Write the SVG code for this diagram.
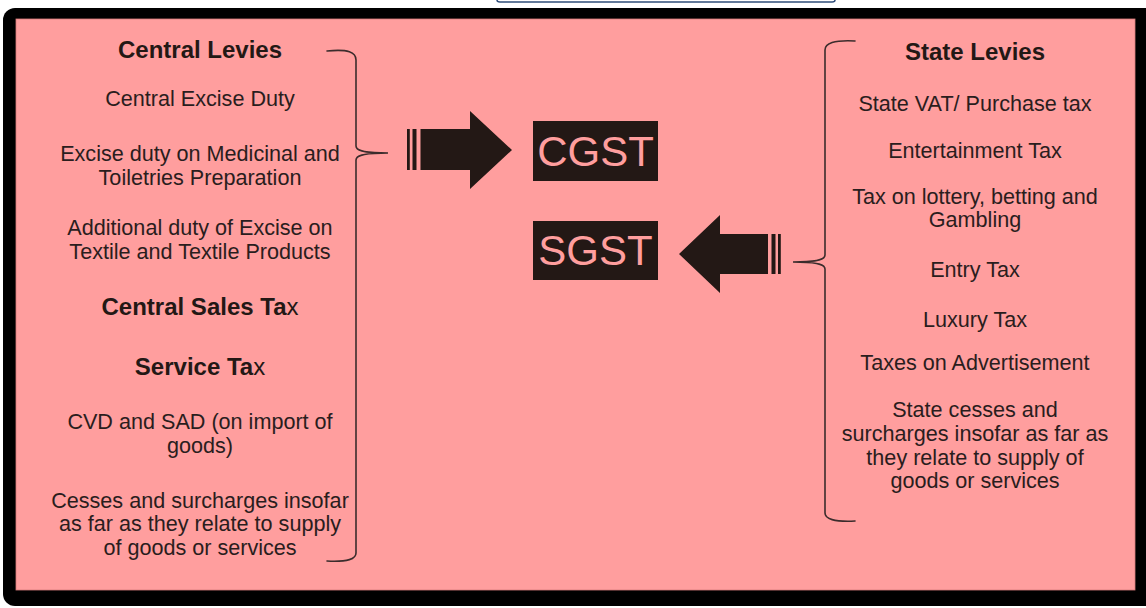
<svg xmlns="http://www.w3.org/2000/svg" width="1146" height="608" viewBox="0 0 1146 608">
  <style>
    text { font-family: "Liberation Sans", Arial, sans-serif; fill: #231815; text-anchor: middle; }
    .h { font-size: 24px; font-weight: bold; }
    .t { font-size: 21.6px; fill: #2a1d1d; }
    .x { font-weight: normal; }
    .brace { fill: none; stroke: #3b2c2c; stroke-width: 1.6; stroke-linecap: round; }
    .arrow { fill: #231815; }
    .box { fill: #231815; }
    .lbl { font-size: 42px; fill: #ff9e9e; }
  </style>
  <rect x="0" y="0" width="1146" height="608" fill="#ffffff"/>
  <path d="M497,0 Q497,2 500,2 L832,2 Q835,2 835,0" fill="none" stroke="#2f4d7a" stroke-width="1.5"/>
  <rect x="3" y="8" width="1160" height="598" rx="12" fill="#000000"/>
  <rect x="16" y="19" width="1119" height="571" fill="#ff9e9e" stroke="#d87a7a" stroke-width="0.8"/>

  <g id="central-levies">
    <text class="h" x="200" y="58">Central Levies</text>
    <text class="t" x="200" y="106">Central Excise Duty</text>
    <text class="t" x="200" y="161">Excise duty on Medicinal and</text>
    <text class="t" x="200" y="185">Toiletries Preparation</text>
    <text class="t" x="200" y="235">Additional duty of Excise on</text>
    <text class="t" x="200" y="259">Textile and Textile Products</text>
    <text class="h" x="200" y="315">Central Sales Ta<tspan class="x">x</tspan></text>
    <text class="h" x="200" y="375">Service Ta<tspan class="x">x</tspan></text>
    <text class="t" x="200" y="429">CVD and SAD (on import of</text>
    <text class="t" x="200" y="453">goods)</text>
    <text class="t" x="200" y="508">Cesses and surcharges insofar</text>
    <text class="t" x="200" y="531">as far as they relate to supply</text>
    <text class="t" x="200" y="555">of goods or services</text>
  </g>

  <g id="state-levies">
    <text class="h" x="975" y="60">State Levies</text>
    <text class="t" x="975" y="111">State VAT/ Purchase tax</text>
    <text class="t" x="975" y="158">Entertainment Tax</text>
    <text class="t" x="975" y="204">Tax on lottery, betting and</text>
    <text class="t" x="975" y="227">Gambling</text>
    <text class="t" x="975" y="277">Entry Tax</text>
    <text class="t" x="975" y="327">Luxury Tax</text>
    <text class="t" x="975" y="370">Taxes on Advertisement</text>
    <text class="t" x="975" y="417">State cesses and</text>
    <text class="t" x="975" y="441">surcharges insofar as far as</text>
    <text class="t" x="975" y="465">they relate to supply of</text>
    <text class="t" x="975" y="488">goods or services</text>
  </g>

  <g id="cgst">
    <rect class="box" x="533" y="121" width="125" height="60"/>
    <text class="lbl" x="595.5" y="166">CGST</text>
  </g>

  <g id="sgst">
    <rect class="box" x="533" y="221" width="125" height="59"/>
    <text class="lbl" x="595.5" y="265">SGST</text>
  </g>

  <g id="connectors">
    <path class="brace" d="M327,51 C348,49 356,52 356,60 L356,146 C356,150 361,153 388,153 C361,153 356,156 356,160 L356,553 C356,559 348,562 327,561"/>
    <path class="brace" d="M855,41 C834,40 825,43 825,50 L825,255 C825,259 820,262 793,262 C820,262 825,265 825,269 L825,513 C825,519 834,522 855,521"/>
    <g class="arrow">
      <rect x="407" y="129" width="2.8" height="41"/>
      <rect x="412.5" y="129" width="4" height="41"/>
      <path d="M420.5,129 L470,129 L470,111 L512,150 L470,189 L470,170 L420.5,170 Z"/>
      <rect x="778" y="234" width="2.8" height="40"/>
      <rect x="771.5" y="234" width="4" height="40"/>
      <path d="M768,234 L720,234 L720,215 L679,254 L720,293 L720,274 L768,274 Z"/>
    </g>
  </g>
</svg>
